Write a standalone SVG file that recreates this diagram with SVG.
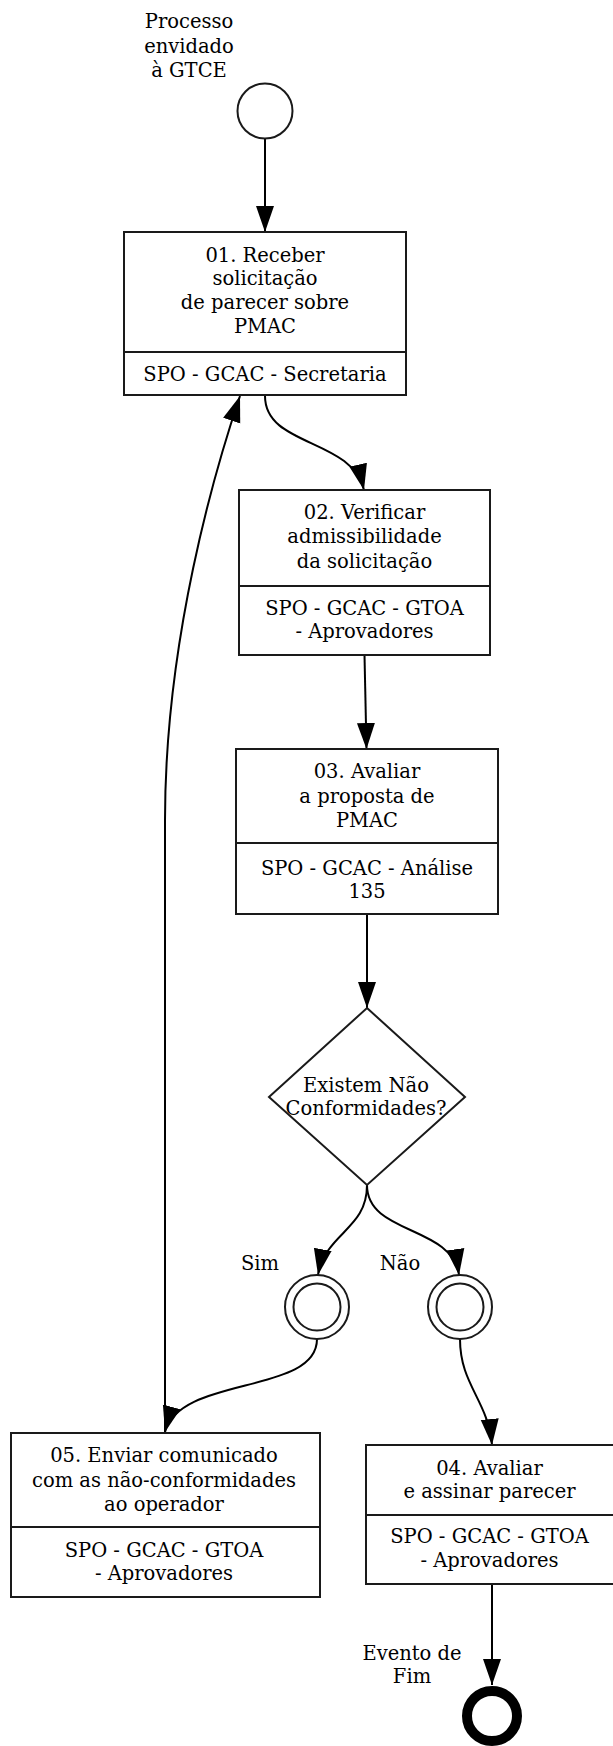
<svg xmlns="http://www.w3.org/2000/svg" width="613" height="1746" viewBox="0 0 613 1746">
<style>
text{font-family:"DejaVu Serif","Liberation Serif",serif;font-size:19.5px;fill:#000;text-anchor:middle}
.box{fill:#fff;stroke:#1a1a1a;stroke-width:2}
.div{stroke:#1a1a1a;stroke-width:2}
.ev{fill:#fff;stroke:#1a1a1a;stroke-width:2}
.edge{fill:none;stroke:#000;stroke-width:2;marker-end:url(#arr)}
</style>
<defs>
<marker id="arr" markerUnits="userSpaceOnUse" markerWidth="26" markerHeight="20" refX="26" refY="10" orient="auto" viewBox="0 0 26 20">
<path d="M0,1 L26,10 L0,19 z" fill="#000"/>
</marker>
</defs>
<g id="connectors">
<path class="edge" d="M265,139 L265,232"/>
<path class="edge" d="M265,396 C265,447 352,438 364,490"/>
<path class="edge" d="M364.5,655 L366.5,749"/>
<path class="edge" d="M367,914 L367,1008"/>
<path class="edge" d="M367,1185 C367,1230 326,1232 318,1275"/>
<path class="edge" d="M367,1185 C367,1235 452,1225 459,1275"/>
<path class="edge" d="M317,1339 C317,1395 180,1375 165,1432"/>
<path class="edge" d="M460,1339 C460,1385 488,1400 492,1445"/>
<path class="edge" d="M165,1433 L165,820 C165,640 215,470 240,396"/>
<path class="edge" d="M492,1584 L492,1685"/>
</g>
<g id="start">
<circle class="ev" cx="265" cy="111" r="27.5"/>
<text x="189" y="28">Processo</text>
<text x="189" y="53">envidado</text>
<text x="189" y="77">à GTCE</text>
</g>
<g id="task01">
<rect class="box" x="124" y="232" width="282" height="163"/>
<line class="div" x1="124" y1="352" x2="406" y2="352"/>
<text x="265" y="262">01. Receber</text>
<text x="265" y="285">solicitação</text>
<text x="265" y="309">de parecer sobre</text>
<text x="265" y="333">PMAC</text>
<text x="265" y="381">SPO - GCAC - Secretaria</text>
</g>
<g id="task02">
<rect class="box" x="239" y="490" width="251" height="165"/>
<line class="div" x1="239" y1="586" x2="490" y2="586"/>
<text x="364.5" y="519">02. Verificar</text>
<text x="364.5" y="543">admissibilidade</text>
<text x="364.5" y="568">da solicitação</text>
<text x="364.5" y="615">SPO - GCAC - GTOA</text>
<text x="364.5" y="638">- Aprovadores</text>
</g>
<g id="task03">
<rect class="box" x="236" y="749" width="262" height="165"/>
<line class="div" x1="236" y1="843" x2="498" y2="843"/>
<text x="367" y="778">03. Avaliar</text>
<text x="367" y="803">a proposta de</text>
<text x="367" y="827">PMAC</text>
<text x="367" y="875">SPO - GCAC - Análise</text>
<text x="367" y="898">135</text>
</g>
<g id="gateway">
<polygon class="ev" points="367,1008 465,1097 367,1185 269,1097"/>
<text x="366" y="1092">Existem Não</text>
<text x="366" y="1115">Conformidades?</text>
</g>
<g id="sim">
<circle class="ev" cx="317" cy="1307" r="32"/>
<circle class="ev" cx="317" cy="1307" r="23.5"/>
<text x="260" y="1270">Sim</text>
</g>
<g id="nao">
<circle class="ev" cx="460" cy="1307" r="32"/>
<circle class="ev" cx="460" cy="1307" r="23.5"/>
<text x="400" y="1270">Não</text>
</g>
<g id="task05">
<rect class="box" x="11" y="1433" width="309" height="164"/>
<line class="div" x1="11" y1="1527" x2="320" y2="1527"/>
<text x="164" y="1462">05. Enviar comunicado</text>
<text x="164" y="1487">com as não-conformidades</text>
<text x="164" y="1511">ao operador</text>
<text x="164" y="1557">SPO - GCAC - GTOA</text>
<text x="164" y="1580">- Aprovadores</text>
</g>
<g id="task04">
<rect class="box" x="366" y="1445" width="248" height="139"/>
<line class="div" x1="366" y1="1515" x2="614" y2="1515"/>
<text x="489.5" y="1475">04. Avaliar</text>
<text x="489.5" y="1498">e assinar parecer</text>
<text x="489.5" y="1543">SPO - GCAC - GTOA</text>
<text x="489.5" y="1567">- Aprovadores</text>
</g>
<g id="end">
<circle cx="492" cy="1716" r="25" fill="#fff" stroke="#000" stroke-width="10"/>
<text x="412" y="1660">Evento de</text>
<text x="412" y="1683">Fim</text>
</g>
</svg>
